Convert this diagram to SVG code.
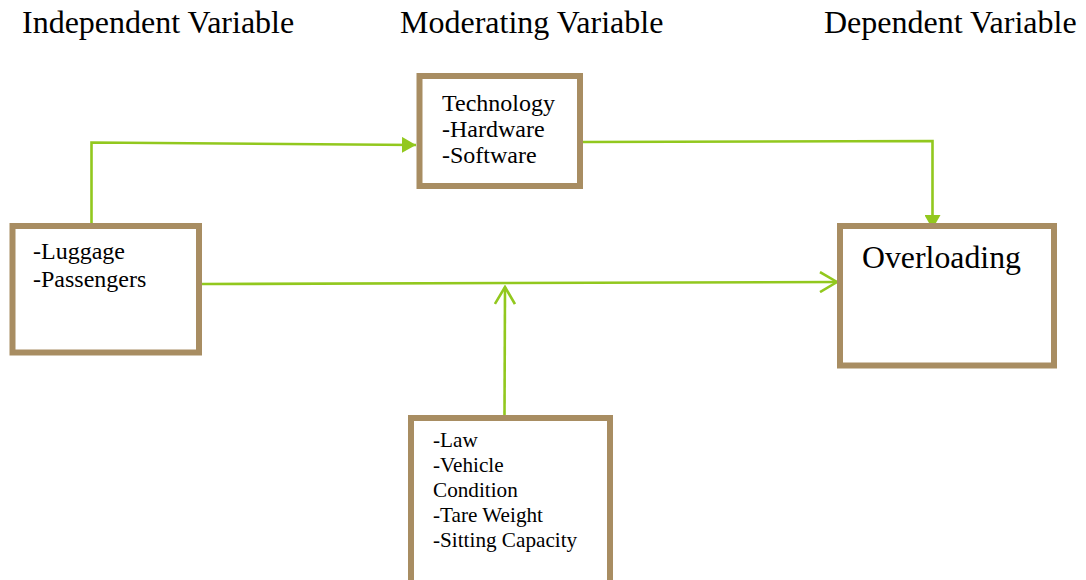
<svg xmlns="http://www.w3.org/2000/svg" width="1086" height="580" viewBox="0 0 1086 580">
<style>
.box{fill:#fff;stroke:#A88D62;stroke-width:6}
.t{font-family:"Liberation Serif","Times New Roman",serif;fill:#000}
.h{font-size:32px}
.m{font-size:24px}
.s{font-size:21.2px}
.c{fill:none;stroke:#92C81E;stroke-width:2.6}
</style>
<defs>
<marker id="fa" viewBox="0 0 14 16" refX="14" refY="8" markerWidth="14" markerHeight="16" markerUnits="userSpaceOnUse" orient="auto">
<path d="M0,0 L14,8 L0,16 Z" fill="#92C81E"/>
</marker>
<marker id="oa" viewBox="0 0 20 22" refX="18" refY="11" markerWidth="20" markerHeight="22" markerUnits="userSpaceOnUse" orient="auto">
<path d="M1,1 L18,11 L1,21" fill="none" stroke="#92C81E" stroke-width="2.6"/>
</marker>
</defs>
<rect width="1086" height="580" fill="#fff"/>
<g id="headers">
<text class="t h" x="22" y="33">Independent Variable</text>
<text class="t h" x="400" y="33">Moderating Variable</text>
<text class="t h" x="824" y="33">Dependent Variable</text>
</g>
<g id="connectors">
<polyline class="c" points="91.5,225 91.5,142.5 416,145" marker-end="url(#fa)"/>
<polyline class="c" points="583,142 932.5,141 932.5,229" marker-end="url(#fa)"/>
<line class="c" x1="202" y1="284" x2="837" y2="282" marker-end="url(#oa)"/>
<line class="c" x1="504.5" y1="415" x2="505" y2="287" marker-end="url(#oa)"/>
</g>
<g id="technology">
<rect class="box" x="419.5" y="76" width="160.5" height="110"/>
<text class="t m" x="442" y="111">Technology</text>
<text class="t m" x="442" y="137">-Hardware</text>
<text class="t m" x="442" y="163">-Software</text>
</g>
<g id="independent">
<rect class="box" x="12.5" y="226" width="186.5" height="126.5"/>
<text class="t m" x="33" y="259">-Luggage</text>
<text class="t m" x="33" y="287">-Passengers</text>
</g>
<g id="overloading">
<rect class="box" x="840" y="226" width="214" height="139.5"/>
<text class="t" font-size="31.8" x="862" y="268">Overloading</text>
</g>
<g id="moderators">
<rect class="box" x="411" y="418" width="199" height="200"/>
<text class="t s" x="433" y="447">-Law</text>
<text class="t s" x="433" y="472">-Vehicle</text>
<text class="t s" x="433" y="497">Condition</text>
<text class="t s" x="433" y="522">-Tare Weight</text>
<text class="t s" x="433" y="547">-Sitting Capacity</text>
</g>
</svg>
